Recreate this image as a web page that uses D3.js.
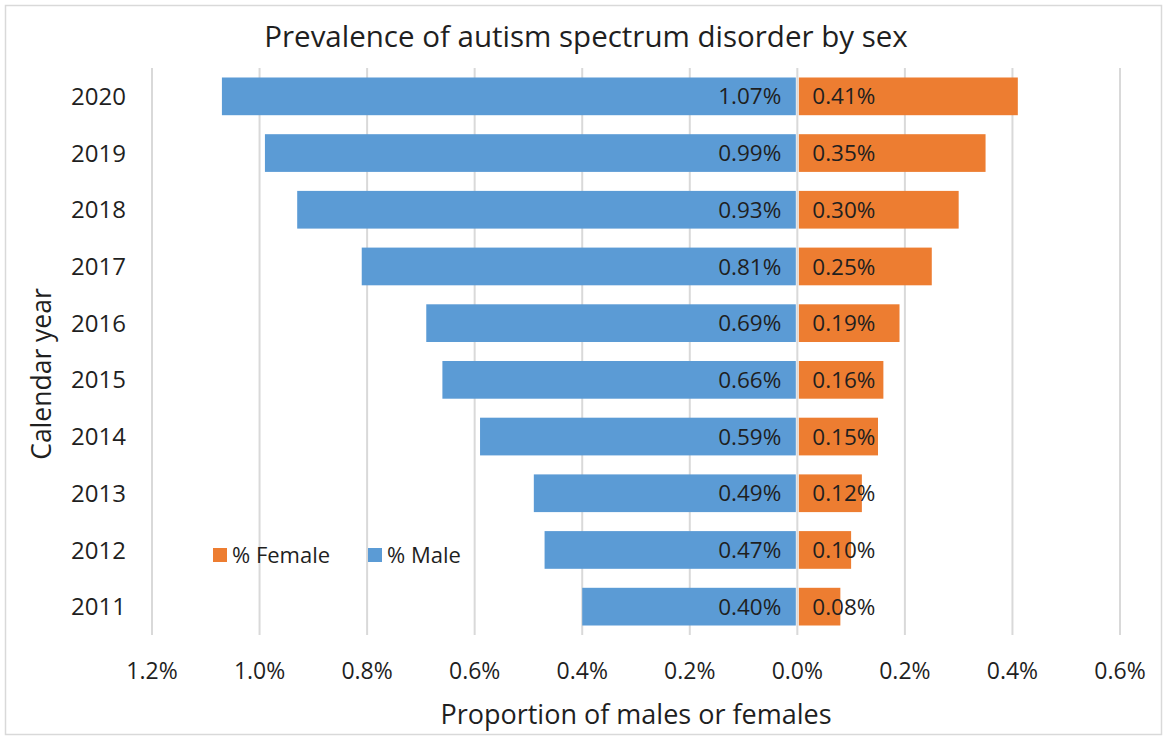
<!DOCTYPE html>
<html><head><meta charset="utf-8">
<script src="https://cdn.jsdelivr.net/npm/d3@7"></script>
<style>
body{margin:0;background:#fff;}
text{font-family:"Open Sans","Noto Sans",sans-serif;}
</style></head>
<body><svg id="c" width="1167" height="740"></svg>
<script>
const years = ["2020","2019","2018","2017","2016","2015","2014","2013","2012","2011"];
const male = [1.07,0.99,0.93,0.81,0.69,0.66,0.59,0.49,0.47,0.40];
const female = [0.41,0.35,0.30,0.25,0.19,0.16,0.15,0.12,0.10,0.08];
const xTicks = [-1.2,-1.0,-0.8,-0.6,-0.4,-0.2,0,0.2,0.4,0.6];

const svg = d3.select("#c");
const blue = "#5B9BD5", orange = "#ED7D31", txt = "#1f1f1f", grid = "#d9d9d9";

svg.append("rect").attr("x",5.5).attr("y",5.5).attr("width",1156).attr("height",729)
  .attr("fill","#fff").attr("stroke","#d9d9d9").attr("stroke-width",1.5);

const x = d3.scaleLinear().domain([-1.2,0.6]).range([152,1120]);
const y = d3.scaleBand().domain(years).range([68,635]).paddingInner(0.335).paddingOuter(0.1675);

// gridlines
svg.append("g").selectAll("line").data(xTicks).join("line")
  .attr("x1",d=>x(d)).attr("x2",d=>x(d)).attr("y1",68).attr("y2",635)
  .attr("stroke",grid).attr("stroke-width",2);

// bars
svg.append("g").selectAll("rect").data(years).join("rect")
  .attr("x",(d,i)=>x(-male[i])).attr("width",(d,i)=>x(0)-1.5-x(-male[i]))
  .attr("y",d=>y(d)).attr("height",y.bandwidth()).attr("fill",blue);
svg.append("g").selectAll("rect").data(years).join("rect")
  .attr("x",x(0)+1.5).attr("width",(d,i)=>x(female[i])-x(0)-1.5)
  .attr("y",d=>y(d)).attr("height",y.bandwidth()).attr("fill",orange);

// labels
svg.append("g").selectAll("text").data(years).join("text")
  .attr("x",x(0)-16).attr("y",d=>y(d)+y.bandwidth()/2).attr("dy","0.36em")
  .attr("text-anchor","end").attr("font-size",22.5).attr("fill",txt)
  .text((d,i)=>male[i].toFixed(2)+"%");
svg.append("g").selectAll("text").data(years).join("text")
  .attr("x",x(0)+15).attr("y",d=>y(d)+y.bandwidth()/2).attr("dy","0.36em")
  .attr("text-anchor","start").attr("font-size",22.5).attr("fill",txt)
  .text((d,i)=>female[i].toFixed(2)+"%");

// x axis tick labels
svg.append("g").selectAll("text").data(xTicks).join("text")
  .attr("x",d=>x(d)).attr("y",671).attr("dy","0.36em").attr("text-anchor","middle")
  .attr("font-size",23).attr("fill",txt)
  .text(d=>Math.abs(d).toFixed(1)+"%");

// y axis labels
svg.append("g").selectAll("text").data(years).join("text")
  .attr("x",126).attr("y",d=>y(d)+y.bandwidth()/2).attr("dy","0.36em")
  .attr("text-anchor","end").attr("font-size",24).attr("fill",txt).text(d=>d);

// titles
svg.append("text").attr("x",586).attr("y",36).attr("dy","0.36em").attr("text-anchor","middle")
  .attr("font-size",29.5).attr("fill",txt).text("Prevalence of autism spectrum disorder by sex");
svg.append("text").attr("x",636).attr("y",714).attr("dy","0.36em").attr("text-anchor","middle")
  .attr("font-size",27).attr("fill",txt).text("Proportion of males or females");
svg.append("text").attr("transform","translate(41,374) rotate(-90)").attr("dy","0.36em")
  .attr("text-anchor","middle").attr("font-size",26.5).attr("fill",txt).text("Calendar year");

// legend
const leg = [{n:"% Female",c:orange,x:213},{n:"% Male",c:blue,x:368}];
const lg = svg.append("g").selectAll("g").data(leg).join("g");
lg.append("rect").attr("x",d=>d.x).attr("y",548).attr("width",14).attr("height",14).attr("fill",d=>d.c);
lg.append("text").attr("x",d=>d.x+19).attr("y",555).attr("dy","0.36em").attr("font-size",22)
  .attr("fill",txt).text(d=>d.n);
</script></body></html>
